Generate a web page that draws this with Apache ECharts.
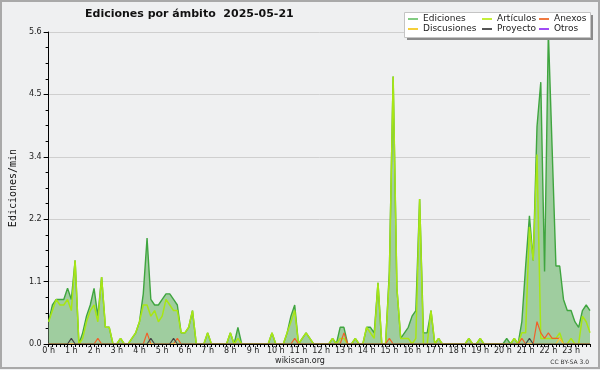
<!DOCTYPE html>
<html><head><meta charset="utf-8">
<script src="https://cdn.jsdelivr.net/npm/echarts@6/dist/echarts.min.js"></script>
<style>html,body{margin:0;padding:0;background:#eff0f1}#c{width:600px;height:370px}</style>
</head><body><div id="c"></div>
<script>
const hourLabels = ["0 h","1 h","2 h","3 h","4 h","5 h","6 h","7 h","8 h","9 h","10 h","11 h",
  "12 h","13 h","14 h","15 h","16 h","17 h","18 h","19 h","20 h","21 h","22 h","23 h"];
const yTicks = [0, 1.12, 2.24, 3.36, 4.48, 5.6];
// 10-minute slots, 6 per hour
const ediciones = [
  0.4,0.7,0.8,0.8,0.8,1.0,  0.8,1.5,0,0.2,0.5,0.7,
  1.0,0.5,1.2,0.3,0.3,0,    0,0.1,0,0,0.1,0.2,
  0.4,0.9,1.9,0.8,0.7,0.7,  0.8,0.9,0.9,0.8,0.7,0.2,
  0.2,0.3,0.6,0,0,0,        0.2,0,0,0,0,0,
  0.2,0,0.3,0,0,0,          0,0,0,0,0,0.2,
  0,0,0,0.2,0.5,0.7,        0,0.1,0.2,0.1,0,0,
  0,0,0,0.1,0,0.3,          0.3,0,0,0.1,0,0,
  0.3,0.3,0.2,1.1,0,0,      1.3,4.8,1.0,0.1,0.2,0.3,
  0.5,0.6,2.6,0.2,0.2,0.6,  0,0.1,0,0,0,0,
  0,0,0,0.1,0,0,            0.1,0,0,0,0,0,
  0,0.1,0,0.1,0,0.4,        1.4,2.3,1.5,3.9,4.7,1.3,
  5.6,3.5,1.4,1.4,0.8,0.6,  0.6,0.4,0.3,0.6,0.7,0.6
];
const articulos = [
  0.4,0.6,0.8,0.7,0.7,0.8,  0.6,1.5,0,0.1,0.4,0.6,
  0.7,0.4,1.2,0.3,0.3,0,    0,0.1,0,0,0.1,0.2,
  0.4,0.7,0.7,0.5,0.6,0.4,  0.5,0.8,0.7,0.6,0.6,0.2,
  0.2,0.3,0.6,0,0,0,        0.2,0,0,0,0,0,
  0.2,0,0.1,0,0,0,          0,0,0,0,0,0.2,
  0,0,0,0.2,0.4,0.6,        0,0.1,0.2,0.1,0,0,
  0,0,0,0.1,0,0.1,          0.1,0,0,0.1,0,0,
  0.3,0.2,0.1,1.1,0,0,      1.2,4.8,1.0,0.1,0.1,0.1,
  0,0.1,2.6,0,0,0.6,        0,0.1,0,0,0,0,
  0,0,0,0.1,0,0,            0.1,0,0,0,0,0,
  0,0,0,0.1,0,0.2,          0.2,2.1,1.5,3.4,0.1,0.1,
  0.1,0.1,0.1,0.2,0,0,      0.1,0,0,0.5,0.4,0.2
];
const anexos = [
  0,0,0,0,0,0,  0,0,0,0,0,0,
  0,0.1,0,0,0,0,  0,0,0,0,0,0,
  0,0,0.2,0,0,0,  0,0,0,0,0.1,0,
  0,0,0,0,0,0,  0,0,0,0,0,0,
  0,0,0,0,0,0,  0,0,0,0,0,0,
  0,0,0,0,0,0.1,  0,0,0,0,0,0,
  0,0,0,0,0,0,  0.2,0,0,0,0,0,
  0,0,0,0,0,0,  0.1,0,0,0,0,0,
  0,0,0,0,0,0,  0,0,0,0,0,0,
  0,0,0,0,0,0,  0,0,0,0,0,0,
  0,0,0,0,0,0.1,  0,0,0,0.4,0.2,0.1,
  0.2,0.1,0.1,0.1,0,0,  0,0,0,0,0,0
];
const discusiones = [
  0,0,0,0,0,0,  0,0,0,0,0,0,
  0,0,0,0,0,0,  0,0,0,0,0,0,
  0,0,0,0,0,0,  0,0,0,0,0,0,
  0,0,0,0,0,0,  0,0,0,0,0,0,
  0,0,0,0,0,0,  0,0,0,0,0,0,
  0,0,0,0,0,0,  0,0,0,0,0,0,
  0,0,0,0,0,0,  0,0,0,0,0,0,
  0,0,0,0,0,0,  0,0,0,0,0,0,
  0,0,0,0,0,0,  0,0,0,0,0,0,
  0,0,0,0,0,0,  0,0,0,0,0,0,
  0,0,0,0,0,0,  0,0,0,0,0,0,
  0,0,0,0.1,0,0,  0,0,0,0,0,0
];
const proyecto = [
  0,0,0,0,0,0,  0.1,0,0,0,0,0,
  0,0,0,0,0,0,  0,0,0,0,0,0,
  0,0,0,0.1,0,0,  0,0,0,0.1,0,0,
  0,0,0,0,0,0,  0,0,0,0,0,0,
  0,0,0,0,0,0,  0,0,0,0,0,0,
  0,0,0,0,0,0,  0,0,0,0,0,0,
  0,0,0,0,0,0,  0,0,0,0,0,0,
  0,0,0,0,0,0,  0,0,0,0,0,0,
  0,0,0,0,0,0,  0,0,0,0,0,0,
  0,0,0,0,0,0,  0,0,0,0,0,0,
  0,0,0,0,0,0,  0,0.1,0,0,0,0,
  0,0,0,0,0,0,  0,0,0,0,0,0
];
const otros = [
  0,0,0,0,0,0,  0,0,0,0,0,0,
  0,0,0,0,0,0,  0,0,0,0,0,0,
  0,0,0,0,0,0,  0,0,0,0,0,0,
  0,0,0,0,0,0,  0,0,0,0,0,0,
  0,0,0,0,0,0,  0,0,0,0,0,0,
  0,0,0,0,0,0,  0,0,0,0,0,0,
  0,0,0,0,0,0,  0,0,0,0,0,0,
  0,0,0,0,0,0,  0,0,0,0,0,0,
  0,0,0,0,0,0,  0,0,0,0,0,0,
  0,0,0,0,0,0,  0,0,0,0,0,0,
  0,0,0,0,0,0,  0,0,0,0,0,0,
  0,0,0,0,0,0,  0,0,0,0,0,0
];

const categories = [];
hourLabels.forEach(function(h, k){ for (let m = 0; m < 6; m++) categories.push(m === 0 ? h : h + m + '0'); });

const FONT = 'DejaVu Sans';
const chart = echarts.init(document.getElementById('c'), null, {renderer: 'canvas'});

function lineSeries(name, data, color, width, z) {
  return {name: name, type: 'line', data: data, symbol: 'none', z: z, animation: false,
    itemStyle: {color: color}, lineStyle: {color: color, width: width}};
}
const sEd = lineSeries('Ediciones', ediciones, '#3fa53f', 1.4, 2);
sEd.areaStyle = {color: '#9fcd9f', opacity: 1};

const legendCommon = {orient: 'vertical', top: 14, padding: 0, itemGap: 0, itemWidth: 10, itemHeight: 2,
  icon: 'rect', z: 200, selectedMode: false,
  textStyle: {fontFamily: FONT, fontSize: 9, color: '#222', lineHeight: 10}};

chart.setOption({
  backgroundColor: '#eff0f1',
  animation: false,
  title: {text: 'Ediciones por ámbito  2025-05-21', left: 85, top: 9, padding: 0,
    textStyle: {fontFamily: FONT, fontSize: 11, fontWeight: 'bold', color: '#111'}},
  grid: {left: 46, right: 10, top: 32, bottom: 26, containLabel: false},
  legend: [
    Object.assign({}, legendCommon, {left: 408, data: [{name: 'Ediciones', itemStyle: {color: '#82cc82'}}, {name: 'Discusiones', itemStyle: {color: '#f5cf3a'}}]}),
    Object.assign({}, legendCommon, {left: 482, data: [{name: 'Artículos', itemStyle: {color: '#c4ee3a'}}, {name: 'Proyecto', itemStyle: {color: '#555555'}}]}),
    Object.assign({}, legendCommon, {left: 539, data: [{name: 'Anexos', itemStyle: {color: '#f07a40'}}, {name: 'Otros', itemStyle: {color: '#a04cf5'}}]})
  ],
  xAxis: {type: 'category', data: categories, boundaryGap: false, z: 10,
    axisLine: {show: true, lineStyle: {color: '#000', width: 1}},
    axisTick: {show: true, interval: 0, length: 3, lineStyle: {color: '#000'}},
    axisLabel: {interval: function(i){ return i % 6 === 0; }, margin: 3,
      formatter: function(v, i){ return hourLabels[i / 6] || ''; },
      fontFamily: FONT, fontSize: 8, color: '#222'},
    splitLine: {show: false}},
  yAxis: {type: 'value', min: yTicks[0], max: yTicks[yTicks.length - 1], interval: yTicks[1],
    name: 'Ediciones/min', nameLocation: 'middle', nameGap: 30, nameRotate: 90,
    nameTextStyle: {fontFamily: 'DejaVu Sans Mono', fontSize: 10, color: '#111'},
    axisLine: {show: true, lineStyle: {color: '#000', width: 1}},
    axisTick: {show: true, length: 5, lineStyle: {color: '#000'}},
    minorTick: {show: true, splitNumber: 4, length: 3, lineStyle: {color: '#000'}},
    axisLabel: {margin: 7, fontFamily: FONT, fontSize: 8, color: '#222',
      formatter: function(v){ return v.toFixed(1); }},
    splitLine: {show: true, lineStyle: {color: '#cfcfcf', width: 1}}},
  series: [
    sEd,
    lineSeries('Artículos', articulos, '#a8e614', 1.5, 3),
    lineSeries('Anexos', anexos, '#f0602a', 1.2, 4),
    lineSeries('Discusiones', discusiones, '#f5c83a', 1.2, 4),
    lineSeries('Proyecto', proyecto, '#444444', 1.2, 4),
    lineSeries('Otros', otros, '#9a3cf0', 1.2, 1)
  ],
  graphic: [
    {type: 'rect', z: 300, silent: true, shape: {x: 1, y: 1, width: 598, height: 367},
      style: {fill: 'none', stroke: '#a9a9a9', lineWidth: 2}},
    {type: 'rect', z: 100, silent: true, shape: {x: 407, y: 15, width: 186, height: 25},
      style: {fill: '#8a8a8a'}},
    {type: 'rect', z: 101, silent: true, shape: {x: 404.5, y: 12.5, width: 186, height: 25},
      style: {fill: '#ffffff', stroke: '#c4c4c4', lineWidth: 1}},
    {type: 'text', z: 100, silent: true, x: 300, y: 361,
      style: {text: 'wikiscan.org', fontFamily: FONT, fontSize: 8, fill: '#222', align: 'center', verticalAlign: 'middle'}},
    {type: 'text', z: 100, silent: true, x: 589, y: 362.5,
      style: {text: 'CC BY-SA 3.0', fontFamily: FONT, fontSize: 6, fill: '#333', align: 'right', verticalAlign: 'middle'}}
  ]
});
</script>
</body></html>
